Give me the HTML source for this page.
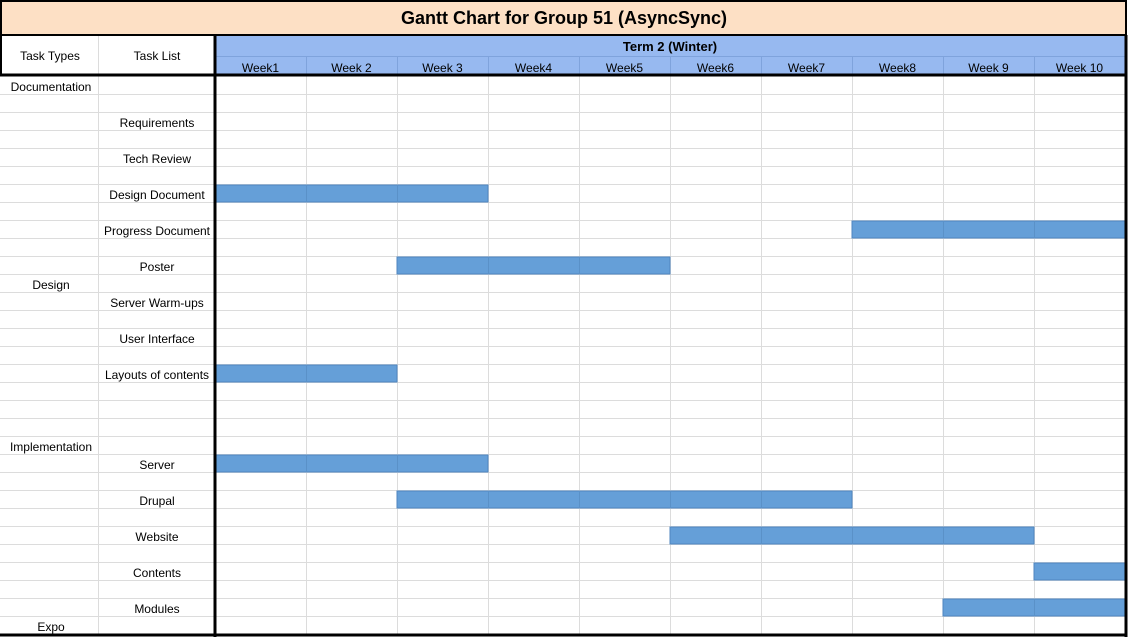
<!DOCTYPE html>
<html><head><meta charset="utf-8"><style>
body{margin:0;background:#fff;font-family:"Liberation Sans",sans-serif}
svg{display:block}
text{font-family:"Liberation Sans",sans-serif;font-size:12px;fill:#000}
</style></head><body>
<svg id="c" width="1128" height="639">
<rect x="1" y="1" width="1125" height="34" fill="#fde0c5" stroke="#000" stroke-width="2"/>
<text x="564" y="24" text-anchor="middle" style="font-size:18px;font-weight:bold">Gantt Chart for Group 51 (AsyncSync)</text>
<rect x="215" y="35" width="910" height="40" fill="#97b9f0"/>
<text x="670" y="51" text-anchor="middle" style="font-weight:bold;font-size:13px">Term 2 (Winter)</text>
<line x1="215" y1="56.5" x2="1125" y2="56.5" stroke="#7fa3dc"/>
<text x="50" y="60" text-anchor="middle">Task Types</text>
<text x="157" y="60" text-anchor="middle">Task List</text>
<g id="grid"></g><g id="bars"></g><g id="labels"></g>
<line x1="0" y1="35" x2="1127" y2="35" stroke="#000" stroke-width="2"/>
<line x1="0" y1="75" x2="1127" y2="75" stroke="#000" stroke-width="3"/>
<line x1="215" y1="35" x2="215" y2="637" stroke="#000" stroke-width="3"/>
<line x1="1126" y1="35" x2="1126" y2="637" stroke="#000" stroke-width="3"/>
<line x1="0" y1="635" x2="1127" y2="635" stroke="#000" stroke-width="3"/>
<line x1="1" y1="35" x2="1" y2="75" stroke="#000" stroke-width="2"/>
</svg>
<script>
const weeks=["Week1","Week 2","Week 3","Week4","Week5","Week6","Week7","Week8","Week 9","Week 10"];
const tasks=["Requirements","Tech Review","Design Document","Progress Document","Poster","Server Warm-ups","User Interface","Layouts of contents","Server","Drupal","Website","Contents","Modules"];
const taskRows=[2,4,6,8,10,12,14,16,21,23,25,27,29];
const taskStart=[null,null,0,7,2,null,null,0,0,2,5,9,8];
const taskEnd=[null,null,3,10,5,null,null,2,3,7,9,10,10];
const types=["Documentation","Design","Implementation","Expo"];
const typeRows=[0,11,20,30];
const NS="http://www.w3.org/2000/svg";
const X0=215,CW=91,Y0=76,RH=18,NR=31;
const xw=i=>X0+CW*i, yr=r=>Y0+RH*r;
function mk(t,a,p){const e=document.createElementNS(NS,t);for(const k in a)e.setAttribute(k,a[k]);p.appendChild(e);return e;}
const g=document.getElementById('grid'),b=document.getElementById('bars'),l=document.getElementById('labels');
for(let r=1;r<NR;r++){mk('line',{x1:0,x2:1125,y1:yr(r)+.5,y2:yr(r)+.5,stroke:'#dcdcdc'},g);}
mk('line',{x1:98.5,x2:98.5,y1:35,y2:635,stroke:'#dcdcdc'},g);
weeks.forEach((w,i)=>{
 if(i>0){mk('line',{x1:xw(i)+.5,x2:xw(i)+.5,y1:57,y2:75,stroke:'#7fa3dc'},g);mk('line',{x1:xw(i)+.5,x2:xw(i)+.5,y1:76,y2:635,stroke:'#dcdcdc'},g);}
 const t=mk('text',{x:xw(i)+CW/2,y:72,'text-anchor':'middle'},l);t.textContent=w;
 
 
});
tasks.forEach((n,i)=>{
 const t=mk('text',{x:157,y:yr(taskRows[i])+15,'text-anchor':'middle'},l);t.textContent=n;
 
 
 if(taskStart[i]!==null){
  const r=mk('rect',{x:xw(taskStart[i]),y:yr(taskRows[i])+1,width:xw(taskEnd[i])-xw(taskStart[i]),height:RH-1,fill:'#659fd8',stroke:'#4f86bf','stroke-width':1},b);
  
  
  for(let k=taskStart[i]+1;k<taskEnd[i];k++)mk('line',{x1:xw(k)+.5,x2:xw(k)+.5,y1:yr(taskRows[i])+1,y2:yr(taskRows[i])+RH,stroke:'#5a91c8'},b);
 }
});
types.forEach((n,i)=>{
 const t=mk('text',{x:51,y:yr(typeRows[i])+15,'text-anchor':'middle'},l);t.textContent=n;
 
 
});
</script>
</body></html>
